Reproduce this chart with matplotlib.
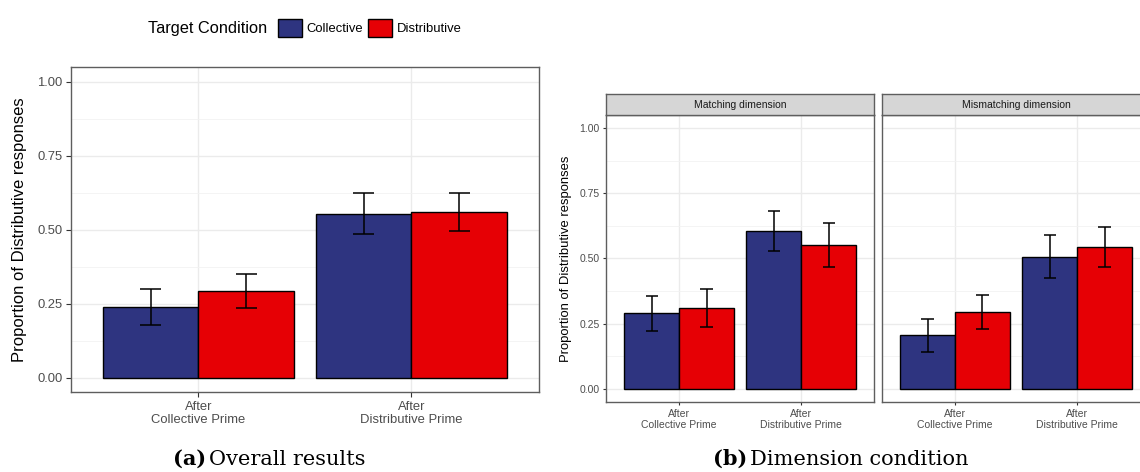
import numpy as np
import matplotlib
matplotlib.use('Agg')
import matplotlib.pyplot as plt
from matplotlib.patches import Patch

plt.rcParams['font.family'] = ['Liberation Sans', 'DejaVu Sans']

# categories and conditions
groups = ['After\nCollective Prime', 'After\nDistributive Prime']
conditions = ['Collective', 'Distributive']
facets = ['Matching dimension', 'Mismatching dimension']

# (a) overall results: mean, lower and upper bound of the error bars
overall_collective = [0.238, 0.552]
overall_collective_lo = [0.177, 0.485]
overall_collective_hi = [0.298, 0.622]
overall_distributive = [0.291, 0.560]
overall_distributive_lo = [0.235, 0.496]
overall_distributive_hi = [0.348, 0.624]

# (b) matching dimension
match_collective = [0.290, 0.606]
match_collective_lo = [0.220, 0.528]
match_collective_hi = [0.357, 0.683]
match_distributive = [0.309, 0.552]
match_distributive_lo = [0.237, 0.466]
match_distributive_hi = [0.382, 0.635]

# (b) mismatching dimension
mismatch_collective = [0.204, 0.506]
mismatch_collective_lo = [0.141, 0.426]
mismatch_collective_hi = [0.268, 0.588]
mismatch_distributive = [0.295, 0.544]
mismatch_distributive_lo = [0.230, 0.467]
mismatch_distributive_hi = [0.359, 0.622]

y_ticks = [0.0, 0.25, 0.5, 0.75, 1.0]
y_minor = [0.125, 0.375, 0.625, 0.875]

BLUE = '#2E3480'
RED = '#E60005'
W, H = 1140, 472


def box(x0, y0, x1, y1):
    # pixel box (top-left origin) -> figure fraction rect
    return [x0 / W, (H - y1) / H, (x1 - x0) / W, (y1 - y0) / H]


def draw_panel(ax, coll, coll_lo, coll_hi, dist, dist_lo, dist_hi,
               tick_size, tick_len, show_yticks=True):
    x = np.arange(1, len(groups) + 1)
    bw = 0.45
    for off, vals, lo, hi, col in [(-bw / 2, coll, coll_lo, coll_hi, BLUE),
                                   (bw / 2, dist, dist_lo, dist_hi, RED)]:
        ax.bar(x + off, vals, width=bw, color=col, edgecolor='black',
               linewidth=1.0, zorder=3)
        ax.vlines(x + off, lo, hi, color='black', linewidth=1.1, zorder=4)
        ax.hlines(lo, x + off - 0.05, x + off + 0.05, color='black', linewidth=1.1, zorder=4)
        ax.hlines(hi, x + off - 0.05, x + off + 0.05, color='black', linewidth=1.1, zorder=4)
    ax.set_xlim(0.4, 2.6)
    ax.set_ylim(-0.05, 1.05)
    ax.set_xticks(x)
    ax.set_xticklabels(groups, fontsize=tick_size, color='#4D4D4D', linespacing=1.1)
    ax.set_yticks(y_ticks)
    ax.set_yticks(y_minor, minor=True)
    if show_yticks:
        ax.set_yticklabels(['0.00', '0.25', '0.50', '0.75', '1.00'],
                           fontsize=tick_size, color='#4D4D4D')
    else:
        ax.tick_params(axis='y', which='major', left=False, labelleft=False)
    ax.tick_params(axis='both', which='major', length=tick_len, width=0.8,
                   color='#333333', pad=2.4)
    ax.tick_params(axis='x', which='major', pad=3.2)
    ax.tick_params(axis='y', which='minor', length=0)
    ax.grid(True, which='major', color='#EBEBEB', linewidth=1.0, zorder=0)
    ax.grid(True, which='minor', axis='y', color='#F2F2F2', linewidth=0.6, zorder=0)
    ax.set_axisbelow(True)
    for s in ax.spines.values():
        s.set_color('#5E5E5E')
        s.set_linewidth(1.0)


fig = plt.figure(figsize=(W / 100, H / 100), dpi=100)

# (a) overall results
ax_a = fig.add_axes(box(70.7, 66.7, 539.3, 392.3))
draw_panel(ax_a, overall_collective, overall_collective_lo, overall_collective_hi,
           overall_distributive, overall_distributive_lo, overall_distributive_hi,
           tick_size=9.4, tick_len=3.4)
fig.text(19.5 / W, 1 - 229.5 / H, 'Proportion of Distributive responses', rotation=90,
         ha='center', va='center', fontsize=12)

# (b) dimension condition
panel_x = [(605.9, 874.4), (881.8, 1150.3)]
panel_data = [
    (match_collective, match_collective_lo, match_collective_hi,
     match_distributive, match_distributive_lo, match_distributive_hi),
    (mismatch_collective, mismatch_collective_lo, mismatch_collective_hi,
     mismatch_distributive, mismatch_distributive_lo, mismatch_distributive_hi),
]
for i, ((x0, x1), dat, title) in enumerate(zip(panel_x, panel_data, facets)):
    ax = fig.add_axes(box(x0, 115, x1, 401.7))
    draw_panel(ax, *dat, tick_size=7.5, tick_len=2.2, show_yticks=(i == 0))
    strip = fig.add_axes(box(x0, 94.3, x1, 115))
    strip.set_facecolor('#D6D6D6')
    strip.set_xticks([])
    strip.set_yticks([])
    for s in strip.spines.values():
        s.set_color('#5E5E5E')
        s.set_linewidth(1.0)
    strip.text(0.5, 0.5, title, transform=strip.transAxes, ha='center', va='center',
               fontsize=7.5, color='#1A1A1A')
fig.text(566 / W, 1 - 258.5 / H, 'Proportion of Distributive responses', rotation=90,
         ha='center', va='center', fontsize=9.4)

# legend on top
fig.text(148.3 / W, 1 - 28 / H, 'Target Condition', ha='left', va='center', fontsize=11.8)
handles = [Patch(facecolor=BLUE, edgecolor='black', linewidth=1.0),
           Patch(facecolor=RED, edgecolor='black', linewidth=1.0)]
fig.legend(handles, conditions, ncol=2, loc='center left',
           bbox_to_anchor=(277.7 / W, 1 - 28 / H), frameon=False, fontsize=9.4,
           handlelength=1.85, handleheight=1.85, handletextpad=0.34,
           columnspacing=0.4, borderpad=0, borderaxespad=0)

# captions
cap_y = 7 / H
fig.text(172.7 / W, cap_y, '(a)', ha='left', va='baseline', fontsize=15,
         fontweight='bold', family='DejaVu Serif')
fig.text(209 / W, cap_y, 'Overall results', ha='left', va='baseline', fontsize=15,
         family='DejaVu Serif')
fig.text(712.7 / W, cap_y, '(b)', ha='left', va='baseline', fontsize=15,
         fontweight='bold', family='DejaVu Serif')
fig.text(750 / W, cap_y, 'Dimension condition', ha='left', va='baseline', fontsize=15,
         family='DejaVu Serif')

fig.savefig('out.png', dpi=100)
